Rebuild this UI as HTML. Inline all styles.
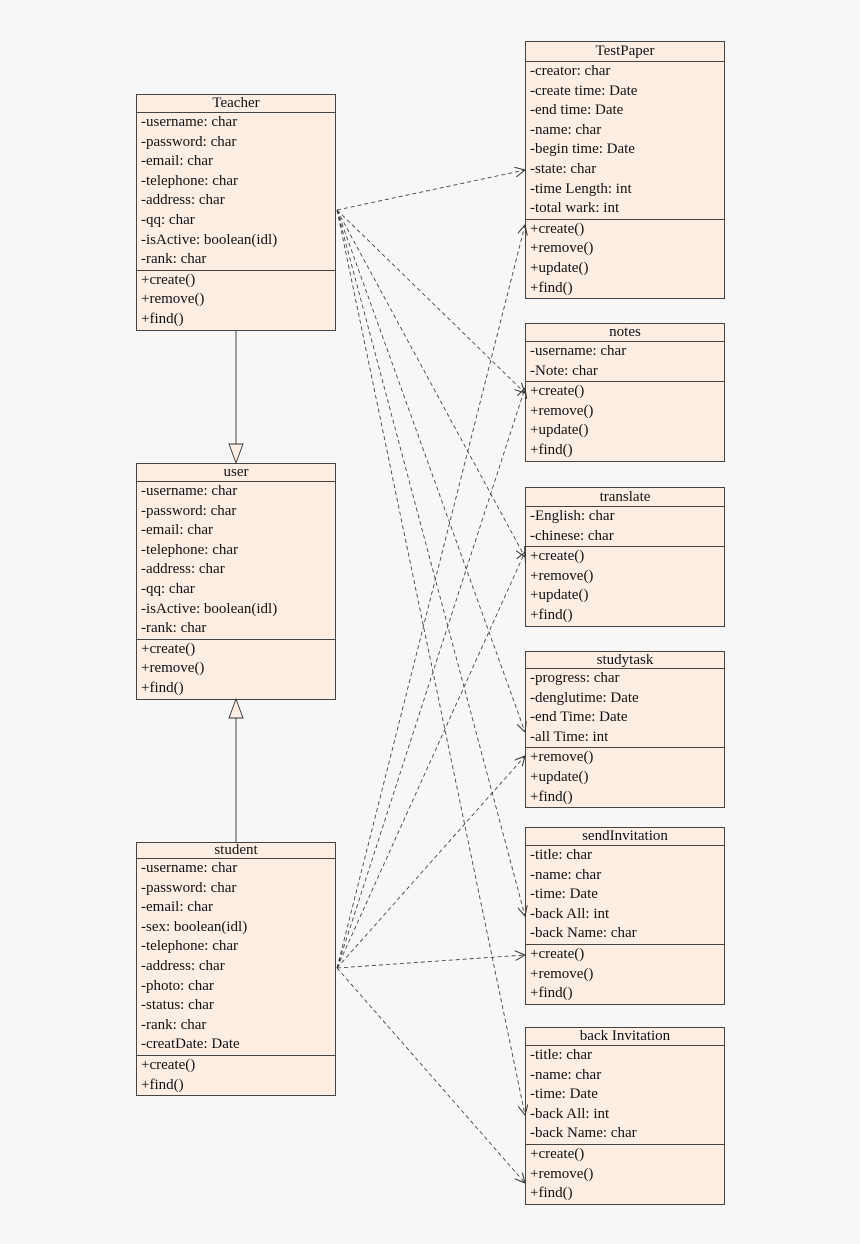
<!DOCTYPE html>
<html><head><style>
body{margin:0;background:#f7f7f7;width:860px;height:1244px;position:relative;overflow:hidden;font-family:"Liberation Serif",serif;font-size:15px;color:#111}
.b{position:absolute;width:198px;background:#fdeee4;border:1px solid #444;box-sizing:content-box}
.h{text-align:center;border-bottom:1px solid #444;line-height:17px}
.s{padding-left:4px;line-height:19.6px}
.s+.s{border-top:1px solid #444}
svg{position:absolute;left:0;top:0}
</style></head><body>
<div class="b" style="left:136px;top:94px"><div class="h">Teacher</div><div class="s">-username: char<br>-password: char<br>-email: char<br>-telephone: char<br>-address: char<br>-qq: char<br>-isActive: boolean(idl)<br>-rank: char</div><div class="s">+create()<br>+remove()<br>+find()</div></div>
<div class="b" style="left:136px;top:463px"><div class="h">user</div><div class="s">-username: char<br>-password: char<br>-email: char<br>-telephone: char<br>-address: char<br>-qq: char<br>-isActive: boolean(idl)<br>-rank: char</div><div class="s">+create()<br>+remove()<br>+find()</div></div>
<div class="b" style="left:136px;top:842px"><div class="h" style="line-height:15px">student</div><div class="s">-username: char<br>-password: char<br>-email: char<br>-sex: boolean(idl)<br>-telephone: char<br>-address: char<br>-photo: char<br>-status: char<br>-rank: char<br>-creatDate: Date</div><div class="s">+create()<br>+find()</div></div>
<div class="b" style="left:525px;top:41px"><div class="h" style="line-height:19px">TestPaper</div><div class="s">-creator: char<br>-create time: Date<br>-end time: Date<br>-name: char<br>-begin time: Date<br>-state: char<br>-time Length: int<br>-total wark: int</div><div class="s">+create()<br>+remove()<br>+update()<br>+find()</div></div>
<div class="b" style="left:525px;top:323px"><div class="h">notes</div><div class="s">-username: char<br>-Note: char</div><div class="s">+create()<br>+remove()<br>+update()<br>+find()</div></div>
<div class="b" style="left:525px;top:487px"><div class="h" style="line-height:18px">translate</div><div class="s">-English: char<br>-chinese: char</div><div class="s">+create()<br>+remove()<br>+update()<br>+find()</div></div>
<div class="b" style="left:525px;top:651px"><div class="h" style="line-height:16px">studytask</div><div class="s">-progress: char<br>-denglutime: Date<br>-end Time: Date<br>-all Time: int</div><div class="s">+remove()<br>+update()<br>+find()</div></div>
<div class="b" style="left:525px;top:827px"><div class="h">sendInvitation</div><div class="s">-title: char<br>-name: char<br>-time: Date<br>-back All: int<br>-back Name: char</div><div class="s">+create()<br>+remove()<br>+find()</div></div>
<div class="b" style="left:525px;top:1027px"><div class="h">back Invitation</div><div class="s">-title: char<br>-name: char<br>-time: Date<br>-back All: int<br>-back Name: char</div><div class="s">+create()<br>+remove()<br>+find()</div></div>
<svg width="860" height="1244">
<defs><marker id="a" markerWidth="12" markerHeight="10" refX="10" refY="5" orient="auto" markerUnits="userSpaceOnUse"><path d="M0,0 L10,5 L0,10" fill="none" stroke="#333" stroke-width="1"/></marker></defs>
<g stroke="#333" stroke-width="0.9" fill="none">
<line x1="236" y1="331" x2="236" y2="444"/><path d="M229,444 L243,444 L236,463 Z" fill="#fdeee4"/>
<line x1="236" y1="842" x2="236" y2="718"/><path d="M229,718 L243,718 L236,699 Z" fill="#fdeee4"/>
</g>
<g stroke="#333" stroke-width="0.8" fill="none" stroke-dasharray="4,3" marker-end="url(#a)">
<line x1="337" y1="210" x2="525" y2="170"/>
<line x1="337" y1="210" x2="525" y2="393"/>
<line x1="337" y1="210" x2="525" y2="557"/>
<line x1="337" y1="210" x2="525" y2="732"/>
<line x1="337" y1="210" x2="525" y2="916"/>
<line x1="337" y1="210" x2="525" y2="1115"/>
<line x1="337" y1="968" x2="525" y2="225"/>
<line x1="337" y1="968" x2="525" y2="388"/>
<line x1="337" y1="968" x2="525" y2="552"/>
<line x1="337" y1="968" x2="525" y2="756"/>
<line x1="337" y1="968" x2="525" y2="955"/>
<line x1="337" y1="968" x2="525" y2="1183"/>
</g>
</svg>
</body></html>
